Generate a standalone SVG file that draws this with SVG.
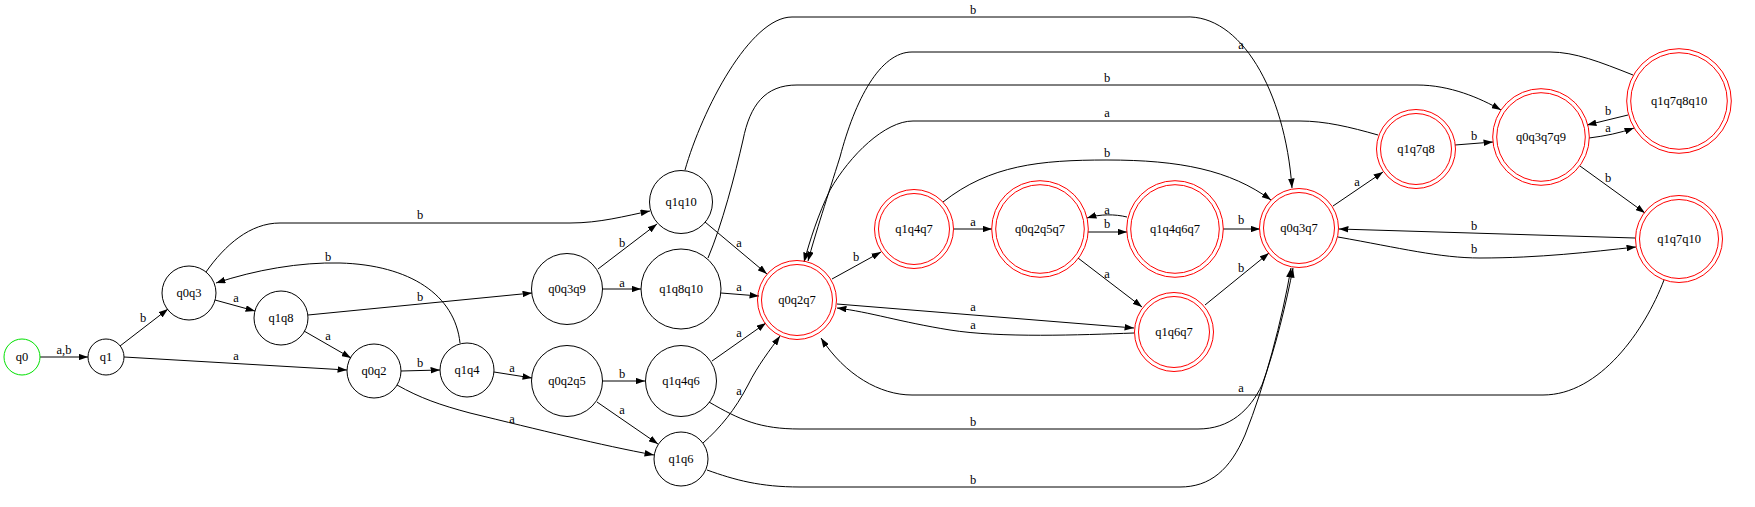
<svg xmlns="http://www.w3.org/2000/svg" width="1755" height="507" viewBox="0 0 1755 507">
<style>
text{font-family:"Liberation Serif","Times New Roman",serif;font-size:12.5px;fill:#000;text-anchor:middle}
.n{fill:none;stroke:#000;stroke-width:1}
.g{fill:none;stroke:#00e000;stroke-width:1}
.r{fill:none;stroke:#ff0000;stroke-width:1}
.e{fill:none;stroke:#000;stroke-width:1;marker-end:url(#ah)}
</style>
<defs>
<marker id="ah" viewBox="0 0 10 7" refX="10" refY="3.5" markerWidth="9.5" markerHeight="6.6" markerUnits="userSpaceOnUse" orient="auto"><path d="M0,0 L10,3.5 L0,7 z" fill="#000"/></marker>
</defs>
<rect width="1755" height="507" fill="#fff"/>
<g id="connectors">
<path class="e" d="M40,357 L88,357"/><text x="64" y="354">a,b</text>
<path class="e" d="M120,346 L168,309"/><text x="143" y="322">b</text>
<path class="e" d="M124,357 L347,370"/><text x="236" y="360">a</text>
<path class="e" d="M215,300 L255,311"/><text x="236" y="302">a</text>
<path class="e" d="M206,272 C225,245 250,223 280,223 L570,223 C600,223 625,216 650,211"/><text x="420" y="219">b</text>
<path class="e" d="M460,343 C455,295 410,265 340,263 C300,262 255,270 216,283"/><text x="328" y="261">b</text>
<path class="e" d="M308,315 L532,293"/><text x="420" y="301">b</text>
<path class="e" d="M304,331 L351,358"/><text x="328" y="340">a</text>
<path class="e" d="M401,371 L440,370"/><text x="420" y="367">b</text>
<path class="e" d="M397,385 C420,398 440,405 470,413 C540,430 600,445 654,455"/><text x="512" y="423">a</text>
<path class="e" d="M494,372 L532,378"/><text x="512" y="372">a</text>
<path class="e" d="M598,269 L657,224"/><text x="622" y="247">b</text>
<path class="e" d="M602,289 L641,289"/><text x="622" y="287">a</text>
<path class="e" d="M602,381 L645,381"/><text x="622" y="378">b</text>
<path class="e" d="M597,402 L658,444"/><text x="622" y="414">a</text>
<path class="e" d="M705,222 L767,274"/><text x="739" y="247">a</text>
<path class="e" d="M721,293 L759,296"/><text x="739" y="291">a</text>
<path class="e" d="M712,361 L766,323"/><text x="739" y="337">a</text>
<path class="e" d="M703,443 C720,428 735,410 748,385 C758,365 770,350 780,336"/><text x="739" y="395">a</text>
<path class="e" d="M685,170 C702,110 750,17 792,17 L1185,17 C1240,14 1285,90 1292,188"/><text x="973" y="14">b</text>
<path class="e" d="M1633,75 C1600,62 1575,52 1550,52 L912,52 C880,52 855,100 840,157 C828,195 815,235 808,261"/><text x="1241" y="49">a</text>
<path class="e" d="M1378,135 C1350,127 1325,121 1300,121 L913,121 C885,121 850,155 830,190 C818,215 810,240 804,262"/><text x="1107" y="117">a</text>
<path class="e" d="M708,258 C722,225 735,175 743,140 C750,105 765,85 797,85 L1417,85 C1450,85 1480,98 1501,110"/><text x="1107" y="82">b</text>
<path class="e" d="M1664,280 C1645,330 1600,395 1543,395 L912,395 C880,395 845,375 821,338"/><text x="1241" y="392">a</text>
<path class="e" d="M709,402 C740,420 760,429 800,429 L1198,429 C1230,429 1250,410 1262,385 C1275,350 1287,300 1293,268"/><text x="973" y="426">b</text>
<path class="e" d="M707,470 C735,480 760,487 800,487 L1180,487 C1210,487 1230,470 1245,435 C1265,385 1282,320 1291,268"/><text x="973" y="484">b</text>
<path class="e" d="M832,279 L881,252"/><text x="856" y="261">b</text>
<path class="e" d="M943,202 C990,165 1040,160 1107,160 C1180,160 1230,170 1271,200"/><text x="1107" y="157">b</text>
<path class="e" d="M954,229 L992,229"/><text x="973" y="226">a</text>
<path class="e" d="M1088,232 L1127,232"/><text x="1107" y="228">b</text>
<path class="e" d="M1127,217 C1115,214 1100,214 1087,218"/><text x="1107" y="214">a</text>
<path class="e" d="M1078,258 L1142,307"/><text x="1107" y="278">a</text>
<path class="e" d="M1205,305 L1269,253"/><text x="1241" y="272">b</text>
<path class="e" d="M1223,229 L1260,229"/><text x="1241" y="224">b</text>
<path class="e" d="M837,304 L1134,328"/><text x="973" y="311">a</text>
<path class="e" d="M1134,333 C1080,335 1000,338 950,330 C900,322 870,312 837,308"/><text x="973" y="329">a</text>
<path class="e" d="M1333,206 L1383,172"/><text x="1357" y="186">a</text>
<path class="e" d="M1455,145 L1493,142"/><text x="1474" y="140">b</text>
<path class="e" d="M1628,115 L1587,125"/><text x="1608" y="115">b</text>
<path class="e" d="M1589,138 C1605,136 1620,133 1634,128"/><text x="1608" y="132">a</text>
<path class="e" d="M1580,166 L1645,213"/><text x="1608" y="182">b</text>
<path class="e" d="M1635,238 L1339,229"/><text x="1474" y="230">b</text>
<path class="e" d="M1338,237 C1400,248 1440,258 1480,258 C1540,258 1590,252 1636,247"/><text x="1474" y="253">b</text>
</g>
<g id="q0"><circle class="g" cx="22" cy="357" r="18"/><text x="22" y="361">q0</text></g>
<g id="q1"><circle class="n" cx="106" cy="357" r="18"/><text x="106" y="361">q1</text></g>
<g id="q0q3"><circle class="n" cx="189" cy="293" r="27"/><text x="189" y="297">q0q3</text></g>
<g id="q1q8"><circle class="n" cx="281" cy="318" r="27"/><text x="281" y="322">q1q8</text></g>
<g id="q0q2"><circle class="n" cx="374" cy="371" r="27"/><text x="374" y="375">q0q2</text></g>
<g id="q1q4"><circle class="n" cx="467" cy="370" r="27"/><text x="467" y="374">q1q4</text></g>
<g id="q0q3q9"><circle class="n" cx="567" cy="289" r="35.5"/><text x="567" y="293">q0q3q9</text></g>
<g id="q0q2q5"><circle class="n" cx="567" cy="381" r="35.5"/><text x="567" y="385">q0q2q5</text></g>
<g id="q1q10"><circle class="n" cx="681" cy="202" r="31.5"/><text x="681" y="206">q1q10</text></g>
<g id="q1q8q10"><circle class="n" cx="681" cy="289" r="40"/><text x="681" y="293">q1q8q10</text></g>
<g id="q1q4q6"><circle class="n" cx="681" cy="381" r="35.5"/><text x="681" y="385">q1q4q6</text></g>
<g id="q1q6"><circle class="n" cx="681" cy="459" r="27"/><text x="681" y="463">q1q6</text></g>
<g id="q0q2q7"><circle class="r" cx="797" cy="300" r="39.5"/><circle class="r" cx="797" cy="300" r="35.5"/><text x="797" y="304">q0q2q7</text></g>
<g id="q1q4q7"><circle class="r" cx="914" cy="229" r="39.5"/><circle class="r" cx="914" cy="229" r="35.5"/><text x="914" y="233">q1q4q7</text></g>
<g id="q0q2q5q7"><circle class="r" cx="1040" cy="229" r="48.3"/><circle class="r" cx="1040" cy="229" r="44.3"/><text x="1040" y="233">q0q2q5q7</text></g>
<g id="q1q4q6q7"><circle class="r" cx="1175" cy="229" r="48.3"/><circle class="r" cx="1175" cy="229" r="44.3"/><text x="1175" y="233">q1q4q6q7</text></g>
<g id="q1q6q7"><circle class="r" cx="1174" cy="332" r="39.5"/><circle class="r" cx="1174" cy="332" r="35.5"/><text x="1174" y="336">q1q6q7</text></g>
<g id="q0q3q7"><circle class="r" cx="1299" cy="228" r="39.5"/><circle class="r" cx="1299" cy="228" r="35.5"/><text x="1299" y="232">q0q3q7</text></g>
<g id="q1q7q8"><circle class="r" cx="1416" cy="149" r="39.5"/><circle class="r" cx="1416" cy="149" r="35.5"/><text x="1416" y="153">q1q7q8</text></g>
<g id="q0q3q7q9"><circle class="r" cx="1541" cy="137" r="48.3"/><circle class="r" cx="1541" cy="137" r="44.3"/><text x="1541" y="141">q0q3q7q9</text></g>
<g id="q1q7q8q10"><circle class="r" cx="1679" cy="101" r="52.3"/><circle class="r" cx="1679" cy="101" r="48.3"/><text x="1679" y="105">q1q7q8q10</text></g>
<g id="q1q7q10"><circle class="r" cx="1679" cy="239" r="43.5"/><circle class="r" cx="1679" cy="239" r="39.5"/><text x="1679" y="243">q1q7q10</text></g>
</svg>
